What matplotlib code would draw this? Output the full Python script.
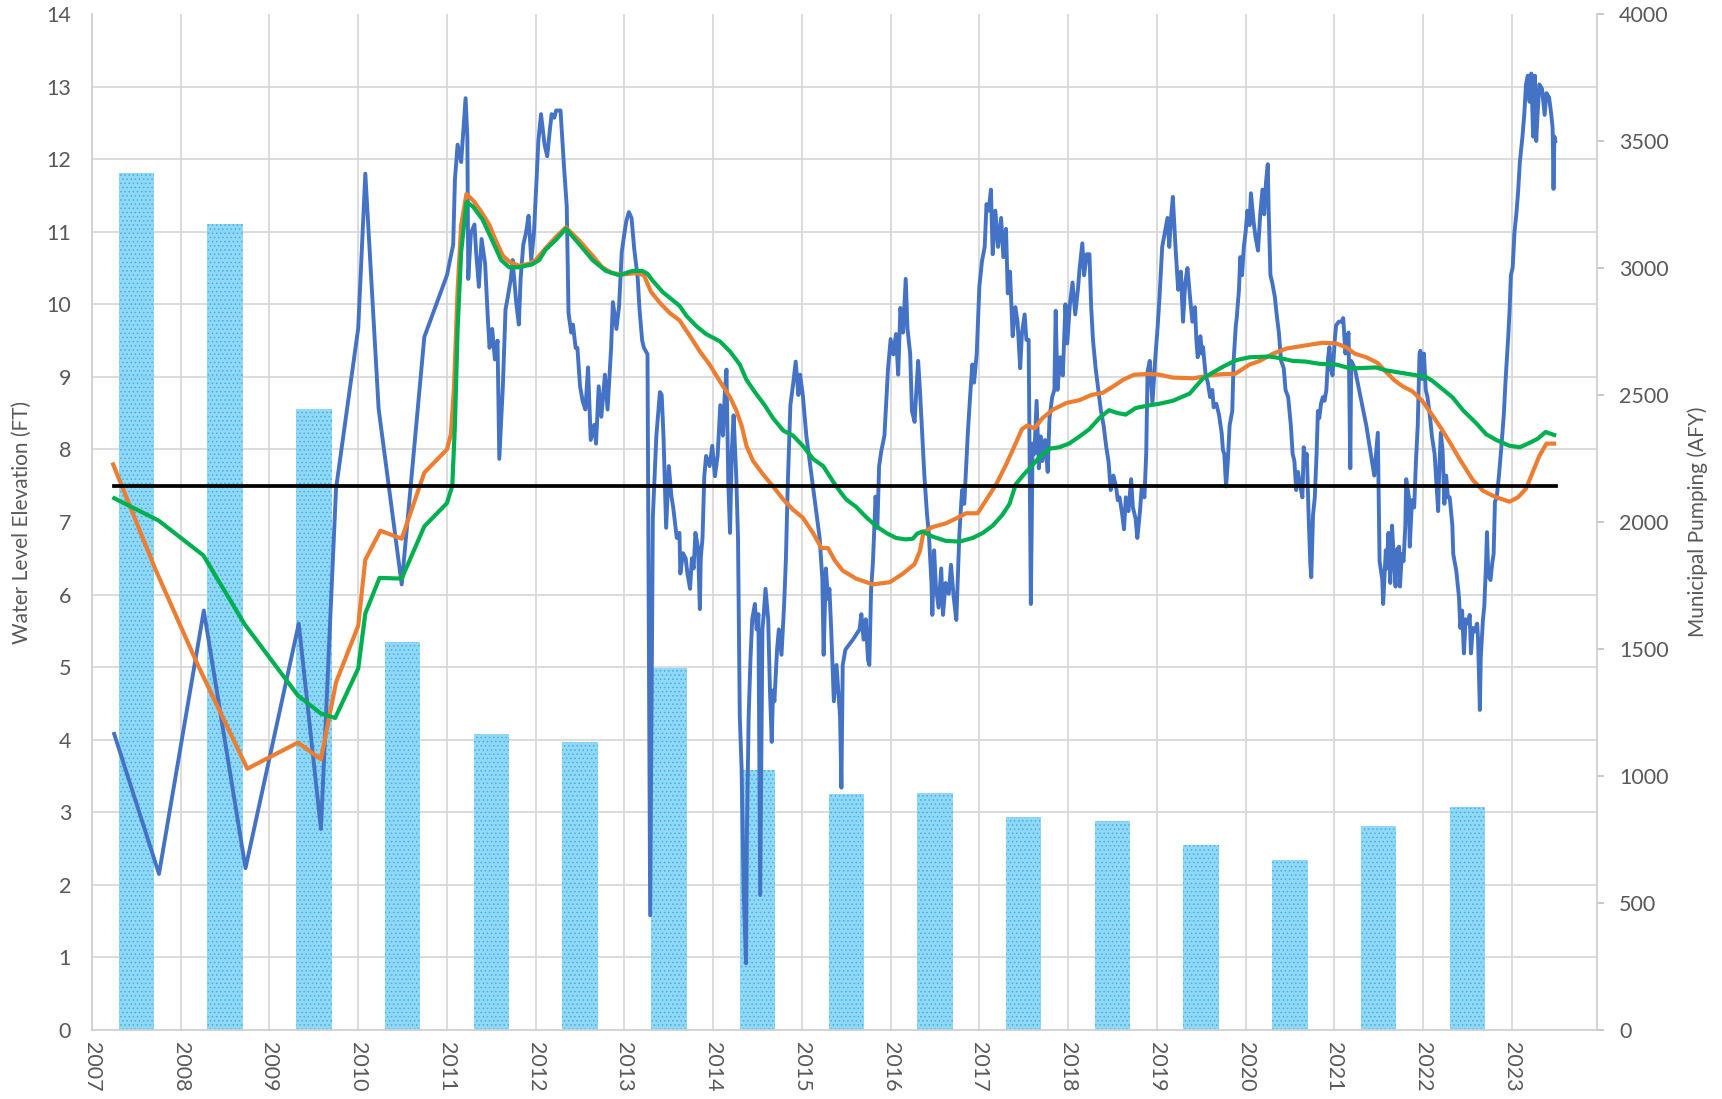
import matplotlib
matplotlib.use("Agg")
import matplotlib.pyplot as plt
import numpy as np

plt.rcParams['font.family'] = ['Lato', 'DejaVu Sans']
plt.rcParams['hatch.linewidth'] = 0.6

# ---------------- data ----------------
pump_years = list(range(2007, 2023))
pump_afy = [3375, 3173, 2443, 1528, 1165, 1134, 1424, 1022, 931, 935, 840, 823, 727, 671, 805, 879]

wl_year = [
 2007.25, 2007.755, 2008.26, 2008.73, 2009.33, 2009.58, 2009.75, 2010.0, 2010.08, 2010.23, 2010.49, 2010.745, 2011.0,
 2011.07, 2011.09, 2011.12, 2011.16, 2011.21, 2011.23, 2011.24, 2011.27, 2011.31, 2011.33, 2011.36, 2011.39, 2011.43,
 2011.46, 2011.48, 2011.51, 2011.54, 2011.57, 2011.59, 2011.63, 2011.66, 2011.68, 2011.72, 2011.74, 2011.78, 2011.81,
 2011.83, 2011.86, 2011.89, 2011.92, 2011.95, 2011.98, 2012.01, 2012.03, 2012.06, 2012.10, 2012.13, 2012.16, 2012.18,
 2012.21, 2012.23, 2012.28, 2012.32, 2012.35, 2012.37, 2012.40, 2012.42, 2012.45, 2012.47, 2012.50, 2012.53, 2012.56,
 2012.59, 2012.62, 2012.66, 2012.68, 2012.71, 2012.74, 2012.78, 2012.81, 2012.85, 2012.87, 2012.91, 2012.94, 2012.97,
 2013.0, 2013.02, 2013.05, 2013.08, 2013.11, 2013.15, 2013.17, 2013.20, 2013.22, 2013.26, 2013.29, 2013.32, 2013.36,
 2013.40, 2013.42, 2013.44, 2013.46, 2013.47, 2013.50, 2013.53, 2013.55, 2013.59, 2013.62, 2013.63, 2013.66, 2013.69,
 2013.71, 2013.74, 2013.76, 2013.78, 2013.80, 2013.83, 2013.85, 2013.86, 2013.88, 2013.90, 2013.92, 2013.96, 2013.99,
 2014.02, 2014.05, 2014.08, 2014.11, 2014.13, 2014.15, 2014.17, 2014.19, 2014.21, 2014.23, 2014.26, 2014.28, 2014.30,
 2014.32, 2014.345, 2014.37, 2014.38, 2014.40, 2014.42, 2014.44, 2014.47, 2014.49, 2014.51, 2014.53, 2014.555, 2014.57,
 2014.59, 2014.62, 2014.64, 2014.66, 2014.675, 2014.69, 2014.72, 2014.74, 2014.77, 2014.80, 2014.82, 2014.84, 2014.87,
 2014.90, 2014.93, 2014.96, 2014.98, 2015.01, 2015.05, 2015.125, 2015.20, 2015.23, 2015.245, 2015.27, 2015.295, 2015.31,
 2015.33, 2015.36, 2015.39, 2015.41, 2015.43, 2015.445, 2015.46, 2015.49, 2015.575, 2015.65, 2015.67, 2015.695, 2015.72,
 2015.745, 2015.76, 2015.78, 2015.80, 2015.83, 2015.85, 2015.87, 2015.895, 2015.93, 2015.97, 2016.0, 2016.03, 2016.06,
 2016.085, 2016.11, 2016.14, 2016.17, 2016.19, 2016.22, 2016.24, 2016.27, 2016.29, 2016.31, 2016.33, 2016.355, 2016.38,
 2016.41, 2016.43, 2016.46, 2016.47, 2016.49, 2016.51, 2016.54, 2016.57, 2016.59, 2016.62, 2016.655, 2016.68, 2016.71,
 2016.74, 2016.76, 2016.775, 2016.805, 2016.83, 2016.85, 2016.87, 2016.895, 2016.92, 2016.94, 2016.97, 2017.0, 2017.03,
 2017.06, 2017.08, 2017.105, 2017.13, 2017.15, 2017.18, 2017.21, 2017.245, 2017.27, 2017.30, 2017.32, 2017.345, 2017.375,
 2017.405, 2017.43, 2017.46, 2017.48, 2017.51, 2017.53, 2017.555, 2017.58, 2017.60, 2017.62, 2017.645, 2017.67, 2017.69,
 2017.71, 2017.74, 2017.77, 2017.79, 2017.82, 2017.845, 2017.86, 2017.88, 2017.91, 2017.94, 2017.97, 2017.99, 2018.02,
 2018.05, 2018.08, 2018.11, 2018.13, 2018.16, 2018.18, 2018.21, 2018.24, 2018.26, 2018.28, 2018.31, 2018.34, 2018.37,
 2018.40, 2018.43, 2018.455, 2018.48, 2018.51, 2018.54, 2018.56, 2018.58, 2018.61, 2018.63, 2018.65, 2018.68, 2018.71,
 2018.73, 2018.76, 2018.78, 2018.81, 2018.83, 2018.86, 2018.88, 2018.895, 2018.92, 2018.95, 2018.98, 2019.01, 2019.03,
 2019.06, 2019.09, 2019.12, 2019.14, 2019.16, 2019.18, 2019.21, 2019.24, 2019.27, 2019.295, 2019.32, 2019.345, 2019.37,
 2019.40, 2019.43, 2019.445, 2019.46,
 2019.47, 2019.49, 2019.51, 2019.52, 2019.55, 2019.575, 2019.60, 2019.625, 2019.64, 2019.67, 2019.70, 2019.73, 2019.745,
 2019.76, 2019.78, 2019.80, 2019.82, 2019.85, 2019.865, 2019.89, 2019.90, 2019.925, 2019.94, 2019.96, 2019.98, 2020.0,
 2020.02, 2020.045, 2020.06, 2020.09, 2020.11, 2020.14, 2020.165, 2020.19, 2020.21, 2020.23, 2020.25, 2020.26, 2020.28,
 2020.30, 2020.33, 2020.35, 2020.375, 2020.40, 2020.43, 2020.45, 2020.48, 2020.495, 2020.51, 2020.53, 2020.55, 2020.57,
 2020.59, 2020.61, 2020.64, 2020.655, 2020.675, 2020.69, 2020.71, 2020.73, 2020.74, 2020.76, 2020.78, 2020.80, 2020.815,
 2020.83, 2020.85, 2020.87, 2020.89, 2020.91, 2020.93, 2020.945, 2020.96, 2020.98, 2021.005, 2021.02, 2021.05, 2021.08,
 2021.10, 2021.125, 2021.14, 2021.16, 2021.18, 2021.19, 2021.23, 2021.36, 2021.45, 2021.49, 2021.51, 2021.54, 2021.55,
 2021.58, 2021.59, 2021.61, 2021.63, 2021.65, 2021.67, 2021.69, 2021.70, 2021.73, 2021.74, 2021.76, 2021.78, 2021.80,
 2021.81, 2021.84, 2021.85, 2021.875, 2021.90, 2021.92, 2021.94, 2021.96, 2021.97, 2021.99, 2022.01, 2022.03, 2022.05,
 2022.08, 2022.10, 2022.13, 2022.15, 2022.17, 2022.18, 2022.20, 2022.22, 2022.24, 2022.26, 2022.28, 2022.30, 2022.33,
 2022.34, 2022.375, 2022.405, 2022.42, 2022.44, 2022.46, 2022.48, 2022.51, 2022.525, 2022.54, 2022.56, 2022.58, 2022.61,
 2022.62, 2022.64, 2022.65, 2022.675, 2022.69, 2022.71, 2022.72, 2022.735, 2022.76, 2022.78, 2022.795, 2022.81, 2022.83,
 2022.855, 2022.88, 2022.91, 2022.93, 2022.96, 2022.975, 2022.99, 2023.01, 2023.03, 2023.05, 2023.07, 2023.09, 2023.12,
 2023.14, 2023.16, 2023.18, 2023.20, 2023.22, 2023.24, 2023.26, 2023.275, 2023.29, 2023.31, 2023.34, 2023.37, 2023.39,
 2023.42, 2023.445, 2023.46, 2023.47, 2023.48, 2023.49,
]
wl_ft = [
 4.08, 2.15, 5.78, 2.23, 5.60, 2.77, 7.46, 9.67, 11.80, 8.56, 6.14, 9.55, 10.40,
 10.82, 11.72, 12.20, 11.96, 12.84, 12.30, 10.35, 10.98, 11.10, 10.70, 10.24, 10.90, 10.56,
 9.82, 9.40, 9.66, 9.24, 9.50, 7.87, 8.87, 9.93, 10.06, 10.35, 10.61, 10.03, 9.72,
 10.35, 10.82, 10.98, 11.22, 10.61, 10.98, 11.72, 12.25, 12.62, 12.20, 12.04, 12.41, 12.62,
 12.57, 12.67, 12.67, 11.88, 11.35, 9.88, 9.61, 9.72, 9.40, 9.40, 8.87, 8.66, 8.55,
 9.13, 8.13, 8.34, 8.08, 8.87, 8.45, 9.03, 8.55, 9.40, 10.03, 9.66, 9.98, 10.72,
 10.98, 11.14, 11.27, 11.19, 10.77, 10.35, 9.93, 9.50, 9.40, 9.31, 1.58, 7.06, 8.19,
 8.79, 8.75, 8.19, 7.35, 6.92, 7.77, 7.35, 7.20, 6.78, 6.85, 6.29, 6.57, 6.50,
 6.29, 6.08, 6.50, 6.36, 6.85, 6.64, 5.80, 6.50, 6.78, 7.63, 7.91, 7.77, 8.05,
 7.63, 7.91, 8.61, 8.19, 8.75, 9.10, 7.56, 6.85, 7.98, 8.47, 7.63, 6.78, 4.32,
 3.62, 1.86, 0.92, 2.70, 4.32, 5.10, 5.66, 5.87, 5.52, 5.73, 1.86, 5.52, 5.73,
 6.08, 5.66, 4.68, 3.97, 4.68, 4.53, 5.24, 5.52, 5.17, 5.87, 6.50, 7.49, 8.61,
 8.89, 9.21, 8.75, 9.03, 8.75, 8.19, 7.49, 6.78, 6.22, 5.17, 6.36, 5.94, 6.08,
 5.52, 4.53, 5.03, 4.68, 4.32, 3.34, 5.03, 5.24, 5.38, 5.52, 5.73, 5.38, 5.66,
 5.10, 5.03, 6.08, 6.43, 7.35, 6.92, 7.77, 7.98, 8.19, 9.10, 9.52, 9.31, 9.59,
 9.03, 9.95, 9.61, 10.35, 9.66, 9.32, 8.53, 8.38, 8.82, 9.22, 8.82, 8.23, 7.64,
 7.10, 6.85, 6.16, 5.72, 6.61, 6.11, 5.82, 6.36, 5.72, 6.16, 6.01, 6.41, 5.97,
 5.65, 6.36, 6.85, 7.44, 7.25, 7.74, 8.23, 8.72, 9.17, 8.92, 9.32, 10.25, 10.60,
 10.79, 11.38, 11.29, 11.58, 10.69, 11.29, 10.79, 11.19, 10.65, 11.04, 10.15, 10.45, 9.56,
 9.96, 9.76, 9.12, 9.61, 9.86, 9.51, 9.51, 5.87, 8.08, 7.94, 8.67, 7.74, 8.18,
 7.84, 8.13, 7.69, 8.43, 8.72, 8.82, 9.91, 8.82, 9.27, 9.02, 10.00, 9.46, 10.00,
 10.30, 9.86, 10.20, 10.50, 10.84, 10.40, 10.69, 10.69, 9.96, 9.51, 9.12, 8.82, 8.53,
 8.33, 8.03, 7.84, 7.44, 7.64, 7.49, 7.30, 7.34, 7.10, 6.90, 7.34, 7.15, 7.59,
 7.20, 7.05, 6.78, 7.15, 7.49, 7.34, 7.94, 9.07, 9.22, 8.63, 9.22, 9.71, 10.10,
 10.79, 10.99, 11.19, 10.79, 11.19, 11.48, 10.79, 10.20, 10.45, 9.76, 10.30, 10.50, 10.15,
 9.76, 9.96, 9.51, 9.27,
 9.32, 9.56, 9.32, 9.41, 9.02, 8.92, 8.72, 8.82, 8.58, 8.63, 8.48, 8.23, 7.99,
 7.94, 7.49, 7.84, 8.33, 8.53, 9.22, 9.71, 9.81, 10.20, 10.65, 10.40, 10.79, 10.99,
 11.29, 11.09, 11.53, 11.14, 10.94, 10.74, 11.24, 11.58, 11.24, 11.68, 11.93, 11.29, 10.40,
 10.30, 10.10, 9.86, 9.61, 9.22, 9.12, 8.82, 8.72, 8.53, 8.33, 7.94, 7.84, 7.44,
 7.69, 7.54, 7.34, 8.03, 7.84, 7.94, 7.10, 6.41, 6.24, 7.10, 7.34, 7.94, 8.53,
 8.43, 8.63, 8.72, 8.67, 8.82, 9.27, 9.41, 9.12, 9.02, 9.51, 9.71, 9.76, 9.76,
 9.81, 9.32, 9.51, 9.61, 7.74, 9.22, 9.12, 8.33, 7.64, 8.23, 6.46, 6.21, 5.87,
 6.61, 6.36, 6.85, 6.16, 6.95, 6.51, 6.11, 6.61, 6.66, 6.11, 6.56, 6.46, 6.95,
 7.59, 7.34, 6.66, 7.30, 7.20, 7.84, 8.33, 9.32, 9.36, 8.97, 9.32, 8.82, 8.72,
 8.43, 8.18, 7.94, 7.54, 7.15, 7.64, 8.23, 7.99, 7.25, 7.64, 7.34, 7.34, 6.95,
 6.56, 6.32, 5.96, 5.54, 5.78, 5.19, 5.66, 5.60, 5.72, 5.19, 5.54, 5.49, 5.60,
 5.37, 4.41, 5.13, 5.66, 5.84, 6.44, 6.86, 6.26, 6.20, 6.44, 6.56, 7.28, 7.34,
 7.64, 8.00, 8.48, 8.96, 9.56, 9.92, 10.40, 10.51, 10.99, 11.23, 11.53, 11.95, 12.31,
 12.61, 13.03, 13.15, 12.79, 13.18, 12.31, 13.15, 12.25, 12.61, 13.03, 12.97, 12.61, 12.91,
 12.85, 12.61, 12.43, 11.59, 12.31, 12.25,
]

ma1_year = [
 2007.23, 2007.71, 2008.20, 2008.75, 2009.32, 2009.58, 2009.75, 2010.0, 2010.08, 2010.25, 2010.49, 2010.745, 2011.0,
 2011.045, 2011.08, 2011.12, 2011.16, 2011.22, 2011.31, 2011.40, 2011.48, 2011.55, 2011.63, 2011.70, 2011.81, 2011.93,
 2012.0, 2012.11, 2012.23, 2012.34, 2012.49, 2012.64, 2012.75, 2012.86, 2012.98, 2013.13, 2013.22, 2013.30, 2013.40,
 2013.51, 2013.62, 2013.74, 2013.85, 2013.96, 2014.08, 2014.19, 2014.26, 2014.32, 2014.375, 2014.45, 2014.56, 2014.675,
 2014.79, 2014.90, 2015.01, 2015.125, 2015.22, 2015.295, 2015.37, 2015.46, 2015.61, 2015.80, 2015.99, 2016.14, 2016.27,
 2016.33, 2016.37, 2016.47, 2016.62, 2016.74, 2016.85, 2016.98, 2017.075, 2017.19, 2017.30, 2017.39, 2017.48, 2017.54,
 2017.62, 2017.71, 2017.83, 2017.98, 2018.13, 2018.26, 2018.39, 2018.51, 2018.62, 2018.745, 2018.91, 2019.03, 2019.18,
 2019.41, 2019.595, 2019.76, 2019.88, 2020.045, 2020.16, 2020.31, 2020.46, 2020.61, 2020.76, 2020.87, 2021.02, 2021.13,
 2021.23, 2021.36, 2021.49, 2021.58, 2021.68, 2021.77, 2021.88, 2021.99, 2022.10, 2022.22, 2022.31, 2022.41, 2022.56,
 2022.675, 2022.825, 2022.975, 2023.07, 2023.16, 2023.24, 2023.31, 2023.39, 2023.50,
]
ma1_ft = [
 7.82, 6.36, 5.01, 3.60, 3.96, 3.73, 4.79, 5.57, 6.48, 6.88, 6.77, 7.68, 8.00,
 8.21, 8.87, 10.19, 11.09, 11.52, 11.41, 11.25, 11.09, 10.88, 10.67, 10.59, 10.53, 10.56,
 10.61, 10.77, 10.93, 11.06, 10.88, 10.67, 10.51, 10.43, 10.41, 10.43, 10.40, 10.17, 10.02,
 9.88, 9.78, 9.56, 9.35, 9.17, 8.93, 8.72, 8.54, 8.33, 8.05, 7.84, 7.66, 7.49,
 7.31, 7.17, 7.06, 6.85, 6.64, 6.64, 6.47, 6.33, 6.22, 6.14, 6.17, 6.29, 6.42,
 6.60, 6.86, 6.93, 6.98, 7.05, 7.12, 7.12, 7.30, 7.52, 7.79, 8.03, 8.28, 8.33,
 8.29, 8.43, 8.55, 8.64, 8.68, 8.75, 8.78, 8.87, 8.96, 9.03, 9.04, 9.03, 8.99,
 8.98, 9.02, 9.04, 9.04, 9.17, 9.22, 9.32, 9.39, 9.42, 9.45, 9.47, 9.46, 9.41,
 9.32, 9.27, 9.19, 9.07, 8.95, 8.87, 8.80, 8.67, 8.48, 8.26, 8.08, 7.87, 7.58,
 7.43, 7.34, 7.28, 7.34, 7.46, 7.70, 7.91, 8.08, 8.08,
]

ma2_year = [
 2007.23, 2007.75, 2008.255, 2008.72, 2009.32, 2009.58, 2009.74, 2010.0, 2010.08, 2010.24, 2010.49, 2010.745, 2011.0,
 2011.06, 2011.09, 2011.12, 2011.16, 2011.22, 2011.29, 2011.40, 2011.51, 2011.61, 2011.70, 2011.81, 2011.96, 2012.04,
 2012.11, 2012.23, 2012.34, 2012.49, 2012.64, 2012.79, 2012.94, 2013.09, 2013.20, 2013.26, 2013.315, 2013.43, 2013.54,
 2013.62, 2013.70, 2013.81, 2013.92, 2014.075, 2014.19, 2014.30, 2014.375, 2014.47, 2014.58, 2014.675, 2014.79, 2014.90,
 2015.01, 2015.125, 2015.24, 2015.35, 2015.43, 2015.50, 2015.61, 2015.73, 2015.84, 2015.95, 2016.06, 2016.17, 2016.25,
 2016.30, 2016.36, 2016.47, 2016.62, 2016.775, 2016.925, 2017.04, 2017.15, 2017.26, 2017.34, 2017.41, 2017.49, 2017.58,
 2017.675, 2017.79, 2017.90, 2018.01, 2018.13, 2018.24, 2018.35, 2018.46, 2018.56, 2018.65, 2018.76, 2018.88, 2019.03,
 2019.18, 2019.37, 2019.52, 2019.63, 2019.745, 2019.895, 2020.045, 2020.27, 2020.38, 2020.53, 2020.68, 2020.83, 2021.02,
 2021.17, 2021.28, 2021.47, 2021.58, 2021.73, 2021.88, 2022.03, 2022.10, 2022.22, 2022.33, 2022.45, 2022.60, 2022.71,
 2022.825, 2022.975, 2023.09, 2023.20, 2023.295, 2023.38, 2023.50,
]
ma2_ft = [
 7.34, 7.02, 6.54, 5.59, 4.61, 4.36, 4.30, 4.98, 5.74, 6.23, 6.22, 6.94, 7.26,
 7.50, 8.34, 9.66, 10.72, 11.41, 11.35, 11.17, 10.88, 10.61, 10.51, 10.51, 10.55, 10.61,
 10.75, 10.89, 11.04, 10.83, 10.61, 10.46, 10.40, 10.46, 10.46, 10.42, 10.33, 10.17, 10.06,
 9.98, 9.84, 9.70, 9.59, 9.49, 9.35, 9.17, 8.96, 8.79, 8.61, 8.43, 8.26, 8.19,
 8.05, 7.87, 7.77, 7.56, 7.42, 7.31, 7.21, 7.06, 6.94, 6.85, 6.78, 6.76, 6.77,
 6.84, 6.87, 6.80, 6.74, 6.73, 6.78, 6.85, 6.95, 7.10, 7.25, 7.52, 7.64, 7.76,
 7.89, 8.01, 8.03, 8.08, 8.18, 8.28, 8.43, 8.54, 8.50, 8.48, 8.57, 8.60, 8.63,
 8.67, 8.77, 8.98, 9.06, 9.14, 9.23, 9.27, 9.28, 9.26, 9.22, 9.21, 9.18, 9.17,
 9.12, 9.12, 9.13, 9.09, 9.06, 9.03, 9.00, 8.95, 8.83, 8.72, 8.54, 8.36, 8.21,
 8.13, 8.05, 8.03, 8.09, 8.15, 8.24, 8.19,
]

threshold_year = [2007.25, 2023.5]
threshold_ft = [7.5, 7.5]

left_ticks = list(range(0, 15))
right_ticks = list(range(0, 4001, 500))
year_ticks = list(range(2007, 2024))

# ---------------- figure ----------------
W, H = 1722, 1099
fig = plt.figure(figsize=(W / 100, H / 100), dpi=100)
L, R, T, B = 92, 1597, 14, 1030
ax_bar = fig.add_axes([L / W, 1 - B / H, (R - L) / W, (B - T) / H])
ax_line = ax_bar.twinx()

gray_txt = '#595959'
grid_c = '#d9d9d9'

xmin, xmax = 2007, 2023.96
ax_bar.set_xlim(xmin, xmax)
ax_bar.set_ylim(0, 4000)
ax_line.set_ylim(0, 14)

# bars (right axis)
ax_bar.bar([y + 0.5 for y in pump_years], pump_afy, width=0.4,
           facecolor='#86d4f5', edgecolor='#2fb0e6', linewidth=0, hatch='....',
           alpha=0.9, zorder=2)

# grid on the bar axis: vertical at years, horizontal at left-axis integers
ax_bar.set_axisbelow(True)
ax_bar.set_xticks(year_ticks)
ax_bar.set_xticklabels([str(y) for y in year_ticks], rotation=270, fontsize=15.5, color=gray_txt)
ax_bar.tick_params(axis='x', length=0, pad=9)
ax_bar.grid(axis='x', color=grid_c, linewidth=1.3)
ax_bar.set_yticks(right_ticks)
ax_bar.set_yticks([v * 4000 / 14 for v in left_ticks], minor=True)
ax_bar.grid(axis='y', which='minor', color=grid_c, linewidth=1.3)
ax_bar.grid(axis='y', which='major', visible=False)
ax_bar.yaxis.tick_right()
ax_bar.yaxis.set_label_position('right')
ax_bar.tick_params(axis='y', which='major', direction='out', length=5, width=1.2,
                   color='#bfbfbf', labelsize=15.5, labelcolor=gray_txt, pad=11)
ax_bar.tick_params(axis='y', which='minor', length=0)
ax_bar.set_ylabel('Municipal Pumping (AFY)', fontsize=15, color=gray_txt, rotation=90)
ax_bar.yaxis.set_label_coords(1.06, 0.5)

for side in ['left', 'right', 'bottom']:
    ax_bar.spines[side].set_color('#d0d0d0')
    ax_bar.spines[side].set_linewidth(1.3)
ax_bar.spines['top'].set_visible(False)

# lines (left axis)
ax_bar.set_zorder(1)
ax_line.set_zorder(2)
ax_line.patch.set_visible(False)
for s in ax_line.spines.values():
    s.set_visible(False)
ax_line.yaxis.tick_left()
ax_line.yaxis.set_label_position('left')
ax_line.set_yticks(left_ticks)
ax_line.tick_params(axis='y', length=0, labelsize=15.5, labelcolor=gray_txt, pad=15)
ax_line.set_ylabel('Water Level Elevation (FT)', fontsize=15, color=gray_txt)
ax_line.yaxis.set_label_coords(-0.040, 0.5)

ax_line.plot(wl_year, wl_ft, color='#4472C4', linewidth=2.8, solid_joinstyle='round', zorder=3)
ax_line.plot(ma1_year, ma1_ft, color='#ED7D31', linewidth=3.0, solid_capstyle='butt', zorder=4)
ax_line.plot(ma2_year, ma2_ft, color='#00B050', linewidth=3.0, solid_capstyle='butt', zorder=5)
ax_line.plot(threshold_year, threshold_ft, color='black', linewidth=2.7, zorder=6)

fig.savefig('out.png', dpi=100)
